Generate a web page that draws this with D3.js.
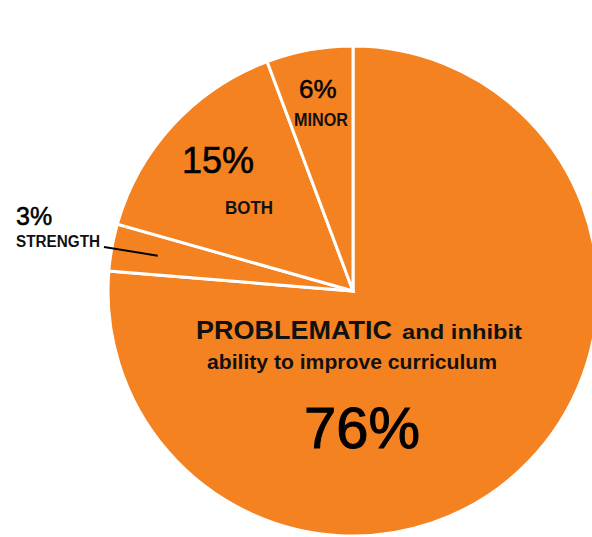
<!DOCTYPE html>
<html><head><meta charset="utf-8">
<script src="https://cdn.jsdelivr.net/npm/d3@7/dist/d3.min.js"></script>
<style>
html,body{margin:0;padding:0;background:#fff;}
svg{display:block;}
.narrow{font-family:"Liberation Sans Narrow","Arial Narrow","Liberation Sans",sans-serif;font-weight:bold;fill:#111;}
.pct{font-family:"Liberation Sans",Arial,sans-serif;fill:#000;stroke:#000;}
</style>
</head><body>
<script>
const categories = ["PROBLEMATIC", "STRENGTH", "BOTH", "MINOR"];
const values = [76.3, 3.1, 14.9, 5.7];
const pctLabels = ["76%", "3%", "15%", "6%"];

const W = 592, H = 537;
const cx = 353, cy = 291, R = 245;
const color = "#F58220";

const svg = d3.select("body").append("svg").attr("width", W).attr("height", H);
const g = svg.append("g").attr("transform", `translate(${cx},${cy})`);

const data = categories.map((c, i) => ({cat: c, value: values[i], pct: pctLabels[i]}));
const pie = d3.pie().sort(null).value(d => d.value);
const arcs = pie(data);
const arc = d3.arc().innerRadius(0).outerRadius(R);

g.selectAll("path.slice").data(arcs).enter().append("path")
  .attr("class", "slice")
  .attr("d", arc)
  .attr("fill", color)
  .attr("stroke", "#fff")
  .attr("stroke-width", 3)
  .attr("stroke-linejoin", "miter");

function polar(a, r) { return [Math.sin(a) * r, -Math.cos(a) * r]; }
const byCat = {};
arcs.forEach(a => byCat[a.data.cat] = a);

function narrow(x, y, size, len, txt, anchor) {
  return g.append("text").attr("class", "narrow").attr("text-anchor", anchor || "start")
    .attr("x", x).attr("y", y).attr("font-size", size)
    .attr("textLength", len).attr("lengthAdjust", "spacingAndGlyphs").text(txt);
}
function pct(x, y, size, sw, txt, anchor) {
  return g.append("text").attr("class", "pct").attr("text-anchor", anchor || "start")
    .attr("x", x).attr("y", y).attr("font-size", size).attr("stroke-width", sw).text(txt);
}

// PROBLEMATIC (big slice)
narrow(196 - cx, 339 - cy, 26, 196, "PROBLEMATIC");
narrow(402 - cx, 339 - cy, 20, 120, "and inhibit");
narrow(207 - cx, 369 - cy, 20, 290, "ability to improve curriculum");
pct(304 - cx, 448 - cy, 58, 1.0, byCat["PROBLEMATIC"].data.pct);

// MINOR
pct(299 - cx, 98 - cy, 26, 0.5, byCat["MINOR"].data.pct);
narrow(294 - cx, 126 - cy, 19, 54, "MINOR");

// BOTH
pct(182 - cx, 173 - cy, 36, 0.6, byCat["BOTH"].data.pct);
narrow(225 - cx, 214 - cy, 19, 48, "BOTH");

// STRENGTH (outside with leader line)
pct(16 - cx, 225 - cy, 25, 0.5, byCat["STRENGTH"].data.pct);
narrow(16 - cx, 247 - cy, 16, 84, "STRENGTH");
const sa = byCat["STRENGTH"];
const mid = (sa.startAngle + sa.endAngle) / 2;
const p1 = polar(mid, R * 0.81);
g.append("line").attr("x1", 104 - cx).attr("y1", 247 - cy).attr("x2", p1[0]).attr("y2", p1[1])
  .attr("stroke", "#000").attr("stroke-width", 2);
</script>
</body></html>
